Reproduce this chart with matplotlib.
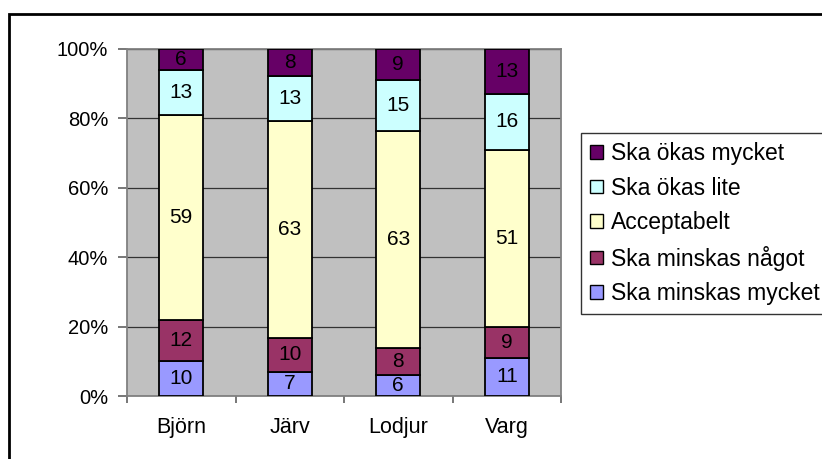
import numpy as np
import matplotlib.pyplot as plt
from matplotlib.patches import Rectangle

plt.rcParams['font.family'] = ['Liberation Sans', 'DejaVu Sans']

# data
arter = ["Björn", "Järv", "Lodjur", "Varg"]
serier = ["Ska minskas mycket", "Ska minskas något", "Acceptabelt",
          "Ska ökas lite", "Ska ökas mycket"]
minskas_mycket = [10, 7, 6, 11]
minskas_nagot = [12, 10, 8, 9]
acceptabelt = [59, 63, 63, 51]
okas_lite = [13, 13, 15, 16]
okas_mycket = [6, 8, 9, 13]
farger = ["#9999FF", "#993366", "#FFFFCC", "#CCFFFF", "#660066"]

varden = np.array([minskas_mycket, minskas_nagot, acceptabelt, okas_lite, okas_mycket], dtype=float)
andel = varden / varden.sum(axis=0)  # 100% stapel

W, H = 822, 459
fig = plt.figure(figsize=(W / 100, H / 100), dpi=100)
ax = fig.add_axes([127 / W, (H - 396) / H, 434 / W, 347 / H])
ax.set_facecolor("#C0C0C0")

x = np.arange(len(arter))
botten = np.zeros(len(arter))
for i in range(len(serier)):
    ax.bar(x, andel[i], 0.41, bottom=botten, color=farger[i],
           edgecolor="black", linewidth=1.3, label=serier[i], zorder=3)
    for j in range(len(arter)):
        ax.text(x[j], botten[j] + andel[i, j] / 2, "%d" % varden[i, j],
                ha="center", va="center", fontsize=15, zorder=4)
    botten += andel[i]

ax.set_xlim(-0.5, len(arter) - 0.5)
ax.set_ylim(0, 1)
ax.set_yticks(np.arange(0, 1.01, 0.2))
ax.set_yticklabels(["%d%%" % v for v in range(0, 101, 20)], fontsize=14.5)
ax.yaxis.grid(True, color="#333333", linewidth=0.9, zorder=1)
ax.set_xticks(x)
ax.set_xticklabels(arter, fontsize=15.5)
ax.set_xticks(np.arange(-0.5, len(arter)), minor=True)
ax.tick_params(axis="x", which="major", length=0, pad=15)
ax.tick_params(axis="x", which="minor", length=5, width=1.2, color="#606060")
ax.tick_params(axis="y", length=6.5, width=1.2, color="#606060", pad=7)
for s in ax.spines.values():
    s.set_color("#808080")
    s.set_linewidth(1.3)

h, l = ax.get_legend_handles_labels()
leg = fig.legend(h[::-1], l[::-1], loc="upper left",
                 bbox_to_anchor=(581 / W, 1 - 133 / H), fontsize=16.5,
                 frameon=True, fancybox=False, edgecolor="black",
                 handlelength=0.55, handleheight=0.55, handletextpad=0.35,
                 labelspacing=0.5, borderpad=0.4, borderaxespad=0)
leg.get_frame().set_linewidth(1.0)
for p in leg.get_patches():
    p.set_linewidth(1.0)

# yttre ram
fig.patches.append(Rectangle((9 / W, -0.1), 1.2, 1 - 14 / H + 0.1,
                             transform=fig.transFigure, fill=False,
                             edgecolor="black", linewidth=2))

fig.savefig("out.png", dpi=100)
